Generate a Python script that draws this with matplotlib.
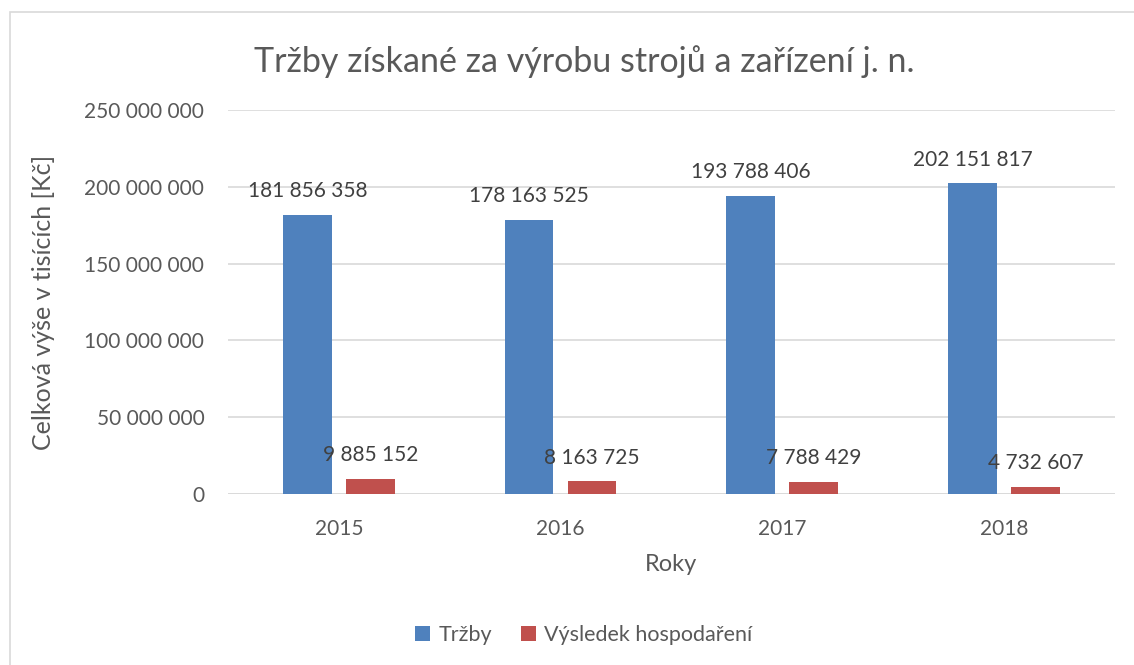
#!/usr/bin/env python
# -*- coding: utf-8 -*-

import matplotlib
matplotlib.use("Agg")
import matplotlib.pyplot as plt
import numpy as np
from matplotlib.patches import Rectangle

roky = ["2015", "2016", "2017", "2018"]
trzby = [181856358, 178163525, 193788406, 202151817]
vysledek = [9885152, 8163725, 7788429, 4732607]

plt.rcParams['font.family'] = ['Lato', 'DejaVu Sans']
seda = "#595959"


def formatuj(cislo):
    return "{:,}".format(int(cislo)).replace(",", " ")


def graf(ruta_salida):
    fig = plt.figure(figsize=(11.34, 6.65), dpi=100)
    ax = fig.add_axes([0.201, 0.2571, 0.782, 0.5775])

    # ramecek grafu
    fig.patches.append(Rectangle((10 / 1134, -0.1), 1.2, 1 - 12 / 665 + 0.1,
                                 transform=fig.transFigure, fill=False,
                                 edgecolor="#d9d9d9", linewidth=1.2))

    grupos = np.arange(len(roky))
    ancho = 0.22
    posun = 0.142

    b1 = ax.bar(grupos - posun, trzby, ancho, color="#4f81bd", label="Tržby", zorder=3)
    b2 = ax.bar(grupos + posun, vysledek, ancho, color="#c0504d", label="Výsledek hospodaření", zorder=3)

    for barras, hodnoty in ((b1, trzby), (b2, vysledek)):
        for b, h in zip(barras, hodnoty):
            ax.annotate(formatuj(h), (b.get_x() + b.get_width() / 2, h),
                        xytext=(0, 10), textcoords="offset points",
                        ha="center", va="bottom", fontsize=15, color="#404040")

    ax.set_xlim(-0.5, 3.5)
    ax.set_ylim(0, 250000000)
    ax.set_yticks(np.arange(0, 250000001, 50000000))
    ax.set_yticklabels([formatuj(v) for v in ax.get_yticks()])
    ax.set_xticks(grupos)
    ax.set_xticklabels(roky)
    ax.tick_params(length=0, labelsize=15, colors=seda, pad=18)
    ax.tick_params(axis="y", pad=17)
    ax.grid(axis="y", color="#d9d9d9", linewidth=1.2, zorder=0)
    for s in ax.spines.values():
        s.set_visible(False)
    ax.axhline(0, color="#d9d9d9", linewidth=1.2, zorder=2)

    ax.set_xlabel("Roky", fontsize=17, color=seda, labelpad=11)
    ax.set_ylabel("Celková výše v tisících [Kč]", fontsize=18, color=seda, labelpad=21)
    fig.text(0.515, 0.907, "Tržby získané za výrobu strojů a zařízení j. n.",
             ha="center", va="center", fontsize=24.5, color=seda)

    fig.legend(handles=[b1, b2], loc="center", bbox_to_anchor=(0.515, 0.045),
               ncol=2, frameon=False, fontsize=15.5, labelcolor=seda,
               handlelength=0.7, handleheight=0.7, columnspacing=1.3, handletextpad=0.4)

    fig.savefig(ruta_salida, dpi=100)


if __name__ == "__main__":
    graf("out.png")
